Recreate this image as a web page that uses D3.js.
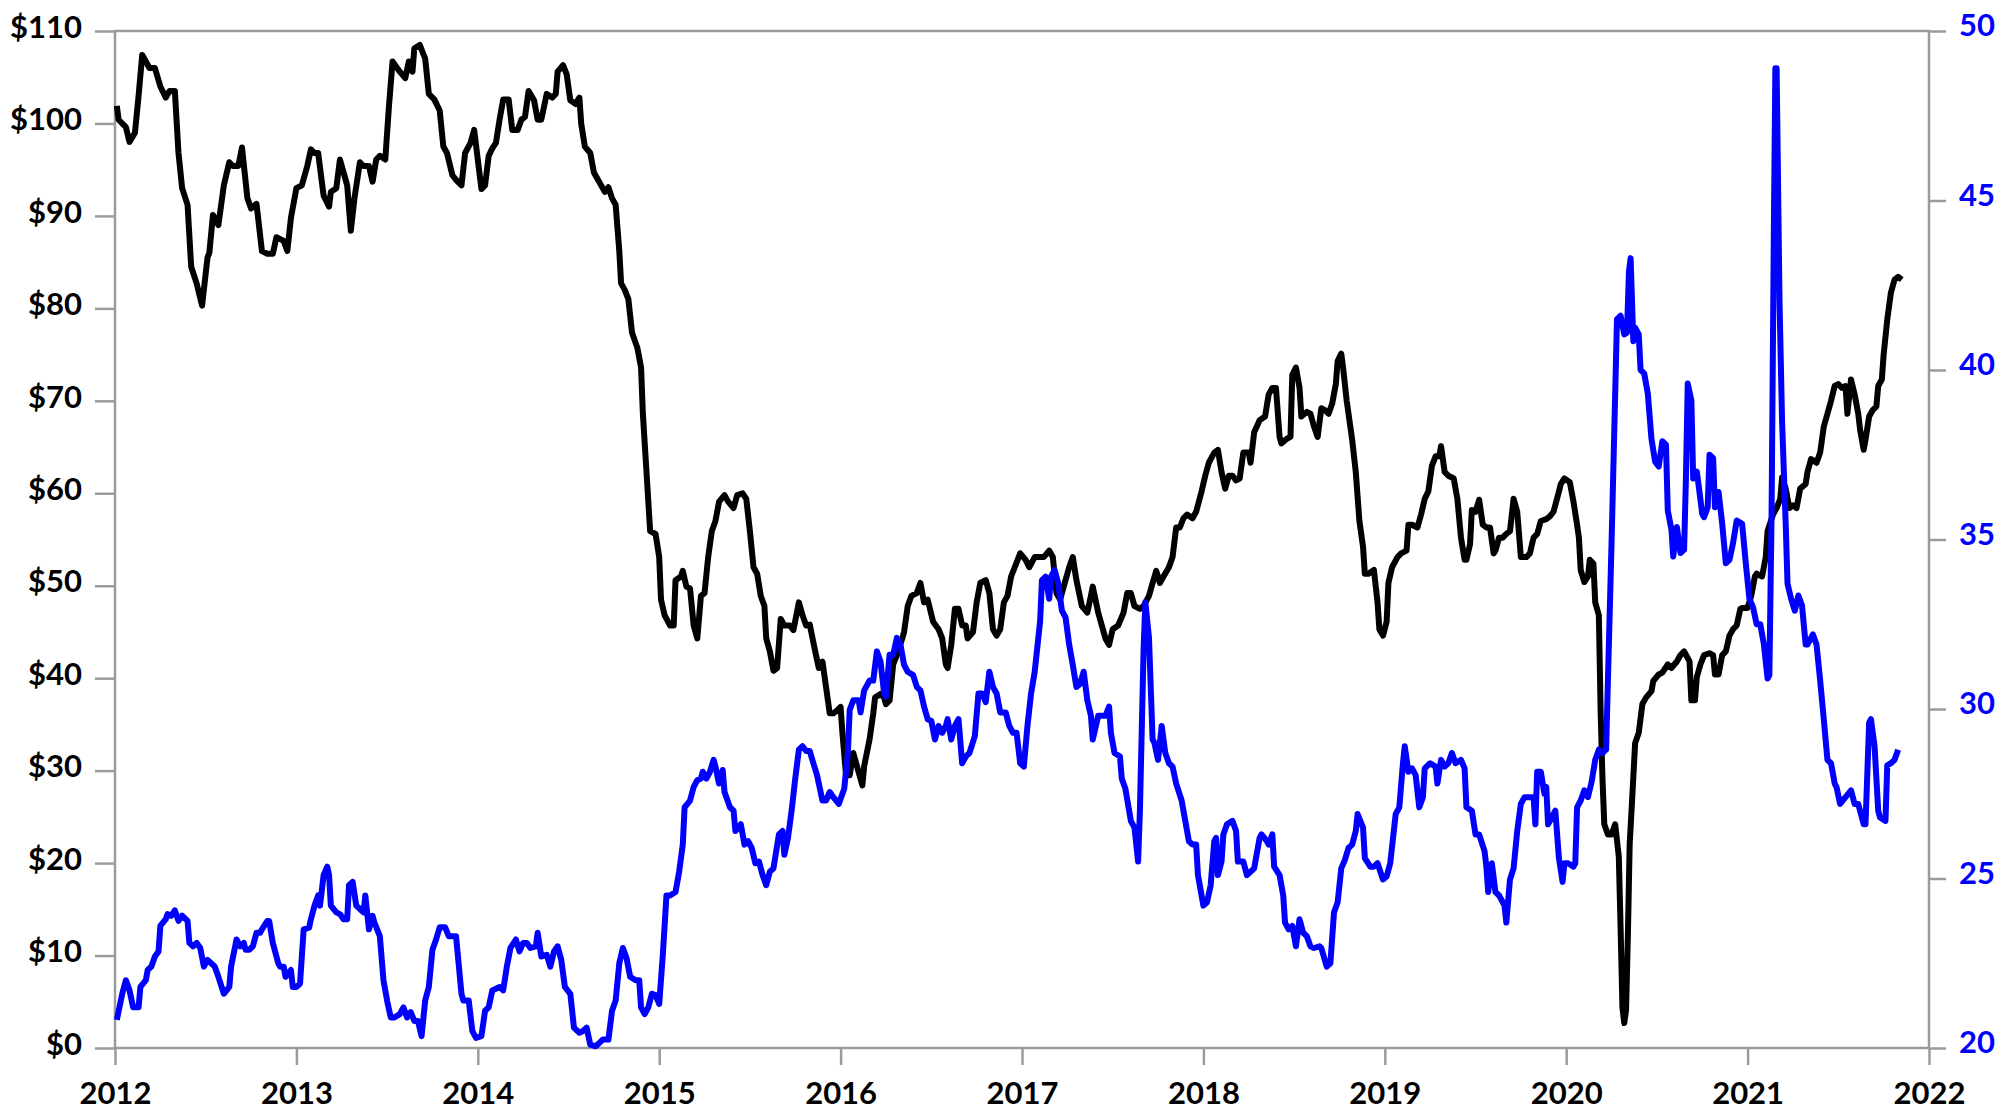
<!DOCTYPE html>
<html>
<head>
<meta charset="utf-8">
<script src="https://cdn.jsdelivr.net/npm/d3@7"></script>
<style>
  body { margin: 0; background: #fff; }
  svg text { font-family: Lato, "Open Sans", sans-serif; font-weight: 700; }
</style>
</head>
<body>
<svg id="chart"></svg>
<script>
// tick values
const years = [2012, 2013, 2014, 2015, 2016, 2017, 2018, 2019, 2020, 2021, 2022];
const priceTicks = [0, 10, 20, 30, 40, 50, 60, 70, 80, 90, 100, 110];
const rhsTicks = [20, 25, 30, 35, 40, 45, 50];

// black series (left axis, $) - dates as decimal years
const oilDates = [
  2012.01, 2012.02, 2012.06, 2012.08, 2012.11, 2012.13, 2012.15, 2012.17, 2012.19, 2012.22, 2012.25, 2012.28,
  2012.30, 2012.33, 2012.35, 2012.37, 2012.40, 2012.42, 2012.45, 2012.48, 2012.51, 2012.52, 2012.54, 2012.57,
  2012.60, 2012.63, 2012.65, 2012.68, 2012.70, 2012.73, 2012.75, 2012.78, 2012.81, 2012.84, 2012.87, 2012.89,
  2012.93, 2012.95, 2012.97,
  2013.00, 2013.03, 2013.06, 2013.08, 2013.10, 2013.12, 2013.15, 2013.18, 2013.19, 2013.22, 2013.24, 2013.27,
  2013.28, 2013.30, 2013.32, 2013.35, 2013.37, 2013.40, 2013.42, 2013.44, 2013.46, 2013.49, 2013.51, 2013.53,
  2013.57, 2013.60, 2013.62, 2013.64, 2013.65, 2013.68, 2013.71, 2013.73, 2013.76, 2013.79, 2013.81, 2013.83,
  2013.86, 2013.88, 2013.91, 2013.93, 2013.96, 2013.98,
  2014.00, 2014.02, 2014.04, 2014.06, 2014.08, 2014.10, 2014.12, 2014.14, 2014.17, 2014.19, 2014.22, 2014.24,
  2014.26, 2014.28, 2014.31, 2014.33, 2014.35, 2014.38, 2014.41, 2014.43, 2014.44, 2014.47, 2014.49, 2014.51,
  2014.54, 2014.56, 2014.57, 2014.59, 2014.62, 2014.64, 2014.66, 2014.68, 2014.70, 2014.72, 2014.74, 2014.76,
  2014.78, 2014.79, 2014.81, 2014.83, 2014.85, 2014.88, 2014.90, 2014.91, 2014.93, 2014.95, 2014.98,
  2015.00, 2015.01, 2015.03, 2015.06, 2015.08, 2015.09, 2015.12, 2015.13, 2015.15, 2015.17, 2015.19, 2015.21,
  2015.23, 2015.25, 2015.27, 2015.29, 2015.31, 2015.33, 2015.36, 2015.38, 2015.41, 2015.43, 2015.46, 2015.48,
  2015.50, 2015.52, 2015.54, 2015.56, 2015.58, 2015.59, 2015.61, 2015.63, 2015.65, 2015.67, 2015.69, 2015.72,
  2015.74, 2015.77, 2015.79, 2015.81, 2015.83, 2015.86, 2015.88, 2015.90, 2015.92, 2015.94, 2015.96, 2015.98,
  2016.00, 2016.01, 2016.03, 2016.05, 2016.07, 2016.10, 2016.12, 2016.13, 2016.16, 2016.18, 2016.19, 2016.22,
  2016.24, 2016.25, 2016.27, 2016.29, 2016.31, 2016.34, 2016.35, 2016.37, 2016.39, 2016.42, 2016.44, 2016.46,
  2016.48, 2016.51, 2016.54, 2016.56, 2016.58, 2016.59, 2016.61, 2016.63, 2016.65, 2016.67, 2016.69, 2016.70,
  2016.73, 2016.75, 2016.77, 2016.80, 2016.82, 2016.84, 2016.86, 2016.88, 2016.90, 2016.92, 2016.94, 2016.96,
  2016.99,
  2017.02, 2017.04, 2017.07, 2017.10, 2017.12, 2017.15, 2017.17, 2017.19, 2017.21, 2017.23, 2017.26, 2017.28,
  2017.30, 2017.33, 2017.36, 2017.38, 2017.39, 2017.42, 2017.44, 2017.46, 2017.48, 2017.50, 2017.53, 2017.56,
  2017.58, 2017.60, 2017.62, 2017.65, 2017.67, 2017.70, 2017.72, 2017.74, 2017.76, 2017.78, 2017.81, 2017.83,
  2017.85, 2017.87, 2017.89, 2017.91, 2017.94, 2017.96, 2017.99,
  2018.01, 2018.03, 2018.06, 2018.08, 2018.10, 2018.12, 2018.14, 2018.16, 2018.18, 2018.20, 2018.22, 2018.25,
  2018.26, 2018.28, 2018.31, 2018.34, 2018.36, 2018.38, 2018.40, 2018.42, 2018.43, 2018.46, 2018.48, 2018.49,
  2018.51, 2018.53, 2018.54, 2018.57, 2018.59, 2018.61, 2018.63, 2018.65, 2018.67, 2018.69, 2018.71, 2018.73,
  2018.74, 2018.76, 2018.77, 2018.79, 2018.82, 2018.84, 2018.86, 2018.88, 2018.89, 2018.91, 2018.94, 2018.96,
  2018.97, 2018.99,
  2019.01, 2019.02, 2019.04, 2019.07, 2019.09, 2019.12, 2019.13, 2019.15, 2019.18, 2019.20, 2019.22, 2019.24,
  2019.26, 2019.28, 2019.30, 2019.31, 2019.33, 2019.35, 2019.38, 2019.40, 2019.42, 2019.44, 2019.45, 2019.47,
  2019.48, 2019.50, 2019.52, 2019.54, 2019.56, 2019.58, 2019.60, 2019.61, 2019.63, 2019.65, 2019.67, 2019.69,
  2019.71, 2019.73, 2019.75, 2019.78, 2019.80, 2019.82, 2019.84, 2019.86, 2019.89, 2019.91, 2019.93, 2019.96,
  2019.97, 2019.99,
  2020.02, 2020.04, 2020.06, 2020.07, 2020.08, 2020.10, 2020.12, 2020.13, 2020.15, 2020.16, 2020.18, 2020.19,
  2020.20, 2020.21, 2020.23, 2020.25, 2020.27, 2020.29, 2020.30, 2020.31, 2020.32, 2020.33, 2020.34, 2020.35,
  2020.36, 2020.38, 2020.40, 2020.42, 2020.44, 2020.47, 2020.48, 2020.51, 2020.53, 2020.56, 2020.58, 2020.61,
  2020.63, 2020.65, 2020.68, 2020.69, 2020.71, 2020.72, 2020.74, 2020.76, 2020.79, 2020.81, 2020.82, 2020.84,
  2020.86, 2020.88, 2020.90, 2020.92, 2020.94, 2020.96, 2020.97,
  2021.00, 2021.02, 2021.04, 2021.05, 2021.08, 2021.10, 2021.11, 2021.14, 2021.16, 2021.18, 2021.19, 2021.21,
  2021.23, 2021.25, 2021.27, 2021.29, 2021.32, 2021.33, 2021.35, 2021.38, 2021.40, 2021.42, 2021.44, 2021.46,
  2021.48, 2021.50, 2021.52, 2021.54, 2021.55, 2021.57, 2021.59, 2021.61, 2021.62, 2021.64, 2021.65, 2021.67,
  2021.69, 2021.71, 2021.72, 2021.74, 2021.75, 2021.77, 2021.79, 2021.81, 2021.83, 2021.85
];
const oilPrice = [
  101.9, 100.4, 99.6, 98, 99, 103, 107.4, 106.7, 106, 106, 104, 102.8,
  103.5, 103.5, 96.8, 93, 91.2, 84.5, 82.7, 80.3, 85.5, 86, 90.1, 89,
  93.3, 95.8, 95.4, 95.4, 97.4, 91.9, 90.8, 91.3, 86.2, 85.9, 85.9, 87.7,
  87.3, 86.2, 89.8,
  93, 93.3, 95.4, 97.2, 96.8, 96.8, 92.2, 91, 92.6, 93, 96.1, 94,
  93.3, 88.4, 91.9, 95.8, 95.4, 95.4, 93.7, 96.1, 96.5, 96.1, 101.8, 106.7,
  105.6, 104.9, 106.7, 105.6, 108.1, 108.5, 107, 103.2, 102.6, 101.4, 97.5, 96.8,
  94.4, 93.9, 93.3, 96.8, 97.9, 99.3,
  96.1, 92.9, 93.3, 96.5, 97.3, 97.9, 100.4, 102.6, 102.6, 99.3, 99.3, 100.4,
  100.7, 103.5, 102.5, 100.4, 100.4, 103.2, 102.8, 103.2, 105.6, 106.3, 105.3, 102.5,
  102.1, 102.8, 100, 97.5, 96.8, 94.7, 94, 93.3, 92.6, 93.1, 91.9, 91.2,
  86.2, 82.7, 82, 81, 77.4, 75.7, 73.6, 68.6, 62.3, 55.9, 55.6,
  53.1, 48.5, 46.8, 45.7, 45.7, 50.6, 51, 51.6, 49.9, 49.7, 45.7, 44.3,
  48.9, 49.2, 53.1, 55.9, 57, 59.1, 59.8, 59.1, 58.4, 59.8, 60, 59.4,
  55.9, 52, 51.3, 48.9, 47.8, 44.3, 42.9, 40.8, 41.1, 46.4, 45.7, 45.7,
  45.2, 48.2, 46.8, 45.7, 45.8, 42.9, 41.1, 41.8, 39, 36.2, 36.2, 36.5,
  36.9, 34.1, 29.5, 29.5, 31.9, 29.8, 28.4, 30.5, 33.4, 36.2, 37.9, 38.3,
  37.9, 37.2, 37.6, 41.5, 42.5, 44.3, 45, 47.8, 48.9, 49.2, 50.3, 48.2,
  48.5, 46.1, 45.3, 44.3, 41.5, 41.1, 43.6, 47.5, 47.5, 45.7, 45.7, 44.3,
  45, 48.2, 50.3, 50.6, 49.2, 45.3, 44.6, 45.3, 48.2, 48.9, 51, 52,
  53.5,
  52.8, 52, 53.1, 53.1, 53.1, 53.8, 53.1, 49.2, 48.5, 49.9, 52, 53.1,
  50.6, 47.8, 47.1, 48.9, 49.9, 47.1, 45.7, 44.3, 43.6, 45.3, 45.7, 47.1,
  49.2, 49.2, 47.8, 47.5, 47.8, 48.9, 50.3, 51.6, 50.3, 51, 52, 53.1,
  56.3, 56.3, 57.3, 57.7, 57.3, 58, 60.2,
  61.9, 63.3, 64.4, 64.7, 62.3, 60.5, 61.9, 61.9, 61.4, 61.6, 64.4, 64.4,
  63.3, 66.6, 67.9, 68.3, 70.7, 71.4, 71.4, 66.1, 65.4, 65.9, 66.1, 72.8,
  73.6, 71.4, 68.3, 68.8, 68.6, 67.2, 66.1, 69.2, 69, 68.6, 69.7, 71.8,
  74.3, 75.1, 73.6, 70, 65.8, 62.3, 57, 54.2, 51.3, 51.3, 51.7, 48.2,
  45.3, 44.6,
  46.1, 50.3, 52, 53.1, 53.5, 53.8, 56.6, 56.6, 56.3, 57.7, 59.4, 60.2,
  63, 64, 64, 65.1, 62.3, 61.9, 61.6, 59.4, 55.2, 52.8, 52.8, 54.5,
  58.2, 58, 59.3, 56.6, 56.3, 56.3, 53.5, 53.8, 55.2, 55.2, 55.6, 55.9,
  59.4, 58, 53.1, 53.1, 53.5, 55.2, 55.6, 57, 57.2, 57.5, 58, 60.2,
  61, 61.6,
  61.2, 59.1, 56.6, 55.2, 51.7, 50.4, 51, 52.8, 52.4, 48.2, 46.8, 36.2,
  29.1, 24.2, 23.1, 23.1, 24.2, 20.7, 12.9, 4.4, 2.7, 4.1, 12.2, 22.1,
  25.6, 33, 34.1, 37.2, 37.9, 38.6, 39.7, 40.4, 40.6, 41.5, 41.1, 41.8,
  42.5, 42.9, 41.8, 37.6, 37.6, 40.1, 41.5, 42.5, 42.7, 42.5, 40.4, 40.4,
  42.5, 42.9, 44.6, 45.3, 45.7, 47.5, 47.6,
  47.6, 48.9, 51, 51.3, 51, 53.1, 55.9, 57.7, 58.4, 59.4, 61.7, 60.5,
  58.4, 58.7, 58.4, 60.5, 61, 62.3, 63.7, 63.3, 64.4, 67.2, 68.6, 70,
  71.6, 71.8, 71.4, 71.6, 68.6, 72.3, 70.7, 68.6, 66.9, 64.7, 65.8, 68.3,
  69, 69.4, 71.6, 72.3, 75, 78.8, 81.7, 83.1, 83.4, 83.1
];

// blue series (right axis)
const rhsDates = [
  2012.01, 2012.04, 2012.06, 2012.08, 2012.10, 2012.13, 2012.14, 2012.17, 2012.18, 2012.20, 2012.22, 2012.24,
  2012.25, 2012.28, 2012.29, 2012.31, 2012.33, 2012.35, 2012.37, 2012.40, 2012.41, 2012.43, 2012.45, 2012.47,
  2012.49, 2012.51, 2012.53, 2012.55, 2012.57, 2012.60, 2012.63, 2012.64, 2012.67, 2012.69, 2012.71, 2012.72,
  2012.74, 2012.76, 2012.78, 2012.80, 2012.81, 2012.84, 2012.85, 2012.87, 2012.90, 2012.91, 2012.93, 2012.94,
  2012.97, 2012.98,
  2013.00, 2013.02, 2013.04, 2013.07, 2013.08, 2013.10, 2013.12, 2013.13, 2013.15, 2013.17, 2013.18, 2013.19,
  2013.22, 2013.24, 2013.26, 2013.28, 2013.29, 2013.31, 2013.33, 2013.35, 2013.37, 2013.38, 2013.40, 2013.42,
  2013.43, 2013.46, 2013.48, 2013.50, 2013.52, 2013.54, 2013.57, 2013.59, 2013.61, 2013.63, 2013.65, 2013.67,
  2013.69, 2013.71, 2013.73, 2013.75, 2013.77, 2013.79, 2013.82, 2013.84, 2013.87, 2013.88, 2013.91, 2013.92,
  2013.95, 2013.97, 2013.99,
  2014.02, 2014.04, 2014.06, 2014.08, 2014.10, 2014.12, 2014.14, 2014.16, 2014.18, 2014.21, 2014.23, 2014.25,
  2014.27, 2014.29, 2014.32, 2014.33, 2014.35, 2014.38, 2014.40, 2014.42, 2014.44, 2014.46, 2014.48, 2014.51,
  2014.53, 2014.56, 2014.58, 2014.60, 2014.62, 2014.65, 2014.67, 2014.69, 2014.72, 2014.74, 2014.76, 2014.78,
  2014.80, 2014.82, 2014.84, 2014.87, 2014.89, 2014.90, 2014.92, 2014.94, 2014.96, 2014.98,
  2015.00, 2015.02, 2015.04, 2015.06, 2015.09, 2015.11, 2015.13, 2015.14, 2015.17, 2015.19, 2015.21, 2015.23,
  2015.24, 2015.26, 2015.28, 2015.30, 2015.31, 2015.33, 2015.35, 2015.36, 2015.39, 2015.41, 2015.42, 2015.45,
  2015.47, 2015.49, 2015.51, 2015.53, 2015.55, 2015.57, 2015.59, 2015.61, 2015.63, 2015.66, 2015.68, 2015.69,
  2015.71, 2015.73, 2015.75, 2015.77, 2015.79, 2015.81, 2015.83, 2015.85, 2015.87, 2015.90, 2015.92, 2015.94,
  2015.96, 2015.99,
  2016.02, 2016.04, 2016.05, 2016.07, 2016.10, 2016.11, 2016.13, 2016.16, 2016.18, 2016.20, 2016.22, 2016.24,
  2016.25, 2016.27, 2016.29, 2016.31, 2016.33, 2016.35, 2016.37, 2016.40, 2016.42, 2016.44, 2016.46, 2016.48,
  2016.50, 2016.52, 2016.54, 2016.56, 2016.58, 2016.59, 2016.61, 2016.63, 2016.65, 2016.67, 2016.69, 2016.71,
  2016.74, 2016.76, 2016.78, 2016.80, 2016.82, 2016.84, 2016.86, 2016.88, 2016.91, 2016.93, 2016.95, 2016.97,
  2016.99,
  2017.01, 2017.03, 2017.05, 2017.07, 2017.10, 2017.11, 2017.13, 2017.15, 2017.16, 2017.18, 2017.20, 2017.22,
  2017.24, 2017.26, 2017.28, 2017.30, 2017.32, 2017.34, 2017.36, 2017.38, 2017.39, 2017.42, 2017.44, 2017.46,
  2017.48, 2017.49, 2017.51, 2017.54, 2017.55, 2017.57, 2017.60, 2017.62, 2017.64, 2017.65, 2017.67, 2017.68,
  2017.70, 2017.72, 2017.73, 2017.75, 2017.77, 2017.79, 2017.81, 2017.83, 2017.85, 2017.88, 2017.90, 2017.92,
  2017.94, 2017.96, 2017.97,
  2018.00, 2018.02, 2018.04, 2018.06, 2018.07, 2018.08, 2018.10, 2018.11, 2018.13, 2018.16, 2018.18, 2018.19,
  2018.22, 2018.24, 2018.26, 2018.28, 2018.31, 2018.32, 2018.35, 2018.36, 2018.38, 2018.39, 2018.42, 2018.44,
  2018.45, 2018.47, 2018.49, 2018.51, 2018.53, 2018.55, 2018.57, 2018.59, 2018.61, 2018.64, 2018.65, 2018.68,
  2018.70, 2018.72, 2018.74, 2018.76, 2018.78, 2018.80, 2018.82, 2018.84, 2018.85, 2018.88, 2018.89, 2018.92,
  2018.94, 2018.96, 2018.99,
  2019.01, 2019.03, 2019.06, 2019.08, 2019.10, 2019.11, 2019.13, 2019.15, 2019.17, 2019.19, 2019.21, 2019.22,
  2019.25, 2019.28, 2019.29, 2019.31, 2019.33, 2019.35, 2019.37, 2019.39, 2019.42, 2019.44, 2019.45, 2019.48,
  2019.50, 2019.52, 2019.55, 2019.56, 2019.57, 2019.59, 2019.61, 2019.63, 2019.66, 2019.67, 2019.69, 2019.71,
  2019.73, 2019.75, 2019.77, 2019.79, 2019.82, 2019.83, 2019.84, 2019.86, 2019.88, 2019.89, 2019.90, 2019.93,
  2019.94, 2019.96, 2019.98, 2019.99,
  2020.01, 2020.04, 2020.05, 2020.06, 2020.08, 2020.10, 2020.12, 2020.14, 2020.16, 2020.18, 2020.20, 2020.22,
  2020.23, 2020.25, 2020.27, 2020.28, 2020.30, 2020.32, 2020.335, 2020.346, 2020.355, 2020.37, 2020.38, 2020.40,
  2020.41, 2020.43, 2020.45, 2020.47, 2020.49, 2020.51, 2020.53, 2020.55, 2020.56, 2020.58, 2020.59, 2020.61,
  2020.63, 2020.65, 2020.66, 2020.67, 2020.69, 2020.70, 2020.72, 2020.73, 2020.75, 2020.76, 2020.78, 2020.79,
  2020.81, 2020.82, 2020.84, 2020.86, 2020.88, 2020.90, 2020.92, 2020.94, 2020.97, 2020.99,
  2021.01, 2021.03, 2021.05, 2021.07, 2021.09, 2021.11, 2021.12, 2021.132, 2021.145, 2021.153, 2021.160, 2021.176,
  2021.19, 2021.21, 2021.22, 2021.24, 2021.26, 2021.28, 2021.30, 2021.32, 2021.33, 2021.36, 2021.38, 2021.40,
  2021.42, 2021.44, 2021.46, 2021.48, 2021.49, 2021.51, 2021.54, 2021.57, 2021.59, 2021.61, 2021.64, 2021.65,
  2021.67, 2021.68, 2021.70, 2021.72, 2021.73, 2021.76, 2021.77, 2021.79, 2021.81, 2021.83
];
const rhsValues = [
  20.83, 21.6, 22.0, 21.7, 21.2, 21.2, 21.8, 22.0, 22.3, 22.4, 22.7, 22.85,
  23.6, 23.8, 23.95, 23.9, 24.06, 23.75, 23.9, 23.75, 23.1, 23.0, 23.1, 22.95,
  22.4, 22.6, 22.5, 22.4, 22.1, 21.6, 21.8, 22.4, 23.2, 23.0, 23.1, 22.9,
  22.9, 23.0, 23.4, 23.4, 23.5, 23.75, 23.75, 23.1, 22.5, 22.4, 22.4, 22.1,
  22.3, 21.8,
  21.8, 21.9, 23.5, 23.55, 23.8, 24.2, 24.5, 24.2, 25.1, 25.35, 25.1, 24.2,
  24.0, 23.95, 23.8, 23.8, 24.8, 24.9, 24.2, 24.1, 24.0, 24.5, 23.5, 23.9,
  23.7, 23.3, 22.0, 21.4, 20.9, 20.9, 21.0, 21.2, 20.9, 21.06, 20.8, 20.8,
  20.35, 21.4, 21.8, 22.9, 23.2, 23.56, 23.56, 23.3, 23.3, 23.3, 21.6, 21.4,
  21.4, 20.5, 20.3,
  20.35, 21.1, 21.2, 21.7, 21.75, 21.8, 21.7, 22.4, 22.95, 23.2, 22.85, 23.1,
  23.1, 22.95, 23.0, 23.4, 22.7, 22.75, 22.4, 22.85, 23.0, 22.6, 21.8, 21.6,
  20.6, 20.45, 20.5, 20.6, 20.1, 20.05, 20.15, 20.25, 20.25, 21.1, 21.4, 22.5,
  22.95, 22.65, 22.1, 22.0, 22.0, 21.2, 21.0, 21.2, 21.6, 21.56,
  21.3, 22.75, 24.5, 24.5, 24.6, 25.2, 26.0, 27.1, 27.3, 27.7, 27.9, 27.95,
  28.15, 27.95, 28.15, 28.5, 28.3, 27.8, 28.2, 27.55, 27.1, 27.0, 26.4, 26.6,
  26.0, 26.1, 25.9, 25.45, 25.5, 25.1, 24.8, 25.2, 25.3, 26.3, 26.4, 25.7,
  26.2, 27.0, 27.95, 28.8, 28.9, 28.76, 28.76, 28.4, 28.05, 27.3, 27.3, 27.55,
  27.4, 27.2,
  27.65, 28.7, 29.97, 30.26, 30.26, 29.9, 30.55, 30.84, 30.84, 31.7, 31.4, 30.46,
  30.36, 31.6, 31.6, 32.1, 31.9, 31.3, 31.1, 31.0, 30.65, 30.55, 30.07, 29.7,
  29.65, 29.1, 29.5, 29.3, 29.5, 29.7, 29.1, 29.5, 29.7, 28.4, 28.6, 28.7,
  29.2, 30.46, 30.46, 30.2, 31.1, 30.65, 30.46, 29.9, 29.9, 29.5, 29.3, 29.3,
  28.4,
  28.3, 29.5, 30.46, 31.1, 32.6, 33.8, 33.9, 33.25, 33.9, 34.1, 33.7, 32.9,
  32.7, 31.9, 31.3, 30.65, 30.74, 31.1, 30.26, 29.8, 29.1, 29.8, 29.8, 29.8,
  30.07, 29.3, 28.7, 28.6, 27.95, 27.65, 26.7, 26.5, 25.5, 27.0, 31.7, 33.15,
  32.1, 29.1, 29.0, 28.5, 29.5, 28.7, 28.4, 28.3, 27.8, 27.3, 26.7, 26.1,
  26.0, 26.0, 25.1,
  24.2, 24.3, 24.8, 26.1, 26.2, 25.1, 25.5, 26.3, 26.6, 26.7, 26.4, 25.5,
  25.5, 25.1, 25.2, 25.3, 26.2, 26.3, 26.1, 26.0, 26.3, 25.35, 25.1, 24.5,
  23.7, 23.5, 23.6, 23.0, 23.8, 23.4, 23.3, 23.0, 22.95, 23.0, 22.95, 22.4,
  22.5, 24.0, 24.3, 25.3, 25.55, 25.9, 26.0, 26.4, 26.9, 26.5, 25.6, 25.35,
  25.35, 25.45, 24.97,
  25.06, 25.45, 26.9, 27.1, 28.4, 28.9, 28.15, 28.25, 28.05, 27.1, 27.4, 28.25,
  28.4, 28.3, 27.8, 28.5, 28.3, 28.4, 28.7, 28.4, 28.5, 28.25, 27.1, 27.0,
  26.3, 26.3, 25.8, 25.35, 24.6, 25.45, 24.6, 24.5, 24.2, 23.7, 24.97, 25.3,
  26.4, 27.2, 27.4, 27.4, 27.4, 26.6, 28.15, 28.15, 27.5, 27.7, 26.6, 26.9,
  27.0, 25.6, 24.9, 25.45,
  25.45, 25.35, 25.45, 27.1, 27.3, 27.6, 27.4, 27.85, 28.5, 28.8, 28.7, 28.8,
  30.84, 34.9, 39.3, 41.5, 41.6, 41.05, 41.1, 42.9, 43.3, 40.85, 41.25, 41.05,
  40.0, 39.9, 39.3, 37.97, 37.3, 37.15, 37.9, 37.8, 35.85, 35.3, 34.5, 35.37,
  34.6, 34.7, 36.8, 39.6, 39.1, 36.8, 37.0, 36.6, 35.75, 35.66, 35.95, 37.5,
  37.4, 35.95, 36.4, 35.46, 34.3, 34.4, 34.9, 35.56, 35.46, 34.3,
  33.25, 33.0, 32.5, 32.5, 31.9, 30.9, 31.0, 35.66, 44.3, 48.9, 48.9, 42.0,
  38.5, 35.46, 33.7, 33.25, 32.9, 33.35, 33.05, 31.9, 31.9, 32.2, 31.9, 30.84,
  29.7, 28.5, 28.4, 27.8, 27.7, 27.2, 27.4, 27.6, 27.2, 27.2, 26.6, 26.6,
  29.6, 29.7, 28.9, 27.0, 26.8, 26.7, 28.34, 28.4, 28.5, 28.8
];

const svgWidth = 2007, svgHeight = 1119;
const margin = {top: 31, right: 78, bottom: 71, left: 115},
    width = svgWidth - margin.left - margin.right,
    height = svgHeight - margin.top - margin.bottom;

const axisGrey = "#9b9b9b";
const fontSize = 31;

const svg = d3.select("#chart")
  .attr("width", svgWidth)
  .attr("height", svgHeight)
  .append("g")
  .attr("transform", "translate(" + margin.left + "," + margin.top + ")");

const x = d3.scaleLinear().domain([2012, 2022]).range([0, width]);
const yLeft = d3.scaleLinear().domain([0, 110]).range([height, 0]);
const yRight = d3.scaleLinear().domain([20, 50]).range([height, 0]);

// plot frame
svg.append("rect")
  .attr("width", width)
  .attr("height", height)
  .attr("fill", "none")
  .attr("stroke", axisGrey)
  .attr("stroke-width", 2.5);

function styleAxis(g, color, dy) {
  g.select(".domain").remove();
  g.selectAll(".tick line").attr("stroke", axisGrey).attr("stroke-width", 2.5);
  g.selectAll(".tick text")
    .attr("fill", color)
    .attr("font-size", fontSize)
    .attr("font-family", "Lato, 'Open Sans', sans-serif")
    .attr("font-weight", 700);
  if (dy) g.selectAll(".tick text").attr("dy", dy);
}

// bottom axis
svg.append("g")
  .attr("transform", "translate(0," + height + ")")
  .call(d3.axisBottom(x).tickValues(years).tickFormat(d3.format("d")).tickSize(17).tickPadding(17))
  .call(g => styleAxis(g, "#000", null));

// left axis ($)
svg.append("g")
  .call(d3.axisLeft(yLeft).tickValues(priceTicks).tickFormat(d => "$" + d).tickSize(20).tickPadding(13))
  .call(g => styleAxis(g, "#000", "0.2em"));

// right axis
svg.append("g")
  .attr("transform", "translate(" + width + ",0)")
  .call(d3.axisRight(yRight).tickValues(rhsTicks).tickSize(17).tickPadding(13))
  .call(g => styleAxis(g, "#0000ff", "0.15em"));

const oilData = oilDates.map((d, i) => ({t: d, v: oilPrice[i]}));
const rhsData = rhsDates.map((d, i) => ({t: d, v: rhsValues[i]}));

// black line
svg.append("path")
  .datum(oilData)
  .attr("fill", "none")
  .attr("stroke", "#000")
  .attr("stroke-width", 6)
  .attr("stroke-linejoin", "round")
  .attr("d", d3.line()
    .x(d => x(d.t))
    .y(d => yLeft(d.v)));

// blue line
svg.append("path")
  .datum(rhsData)
  .attr("fill", "none")
  .attr("stroke", "#0000ff")
  .attr("stroke-width", 6)
  .attr("stroke-linejoin", "round")
  .attr("d", d3.line()
    .x(d => x(d.t))
    .y(d => yRight(d.v)));
</script>
</body>
</html>
